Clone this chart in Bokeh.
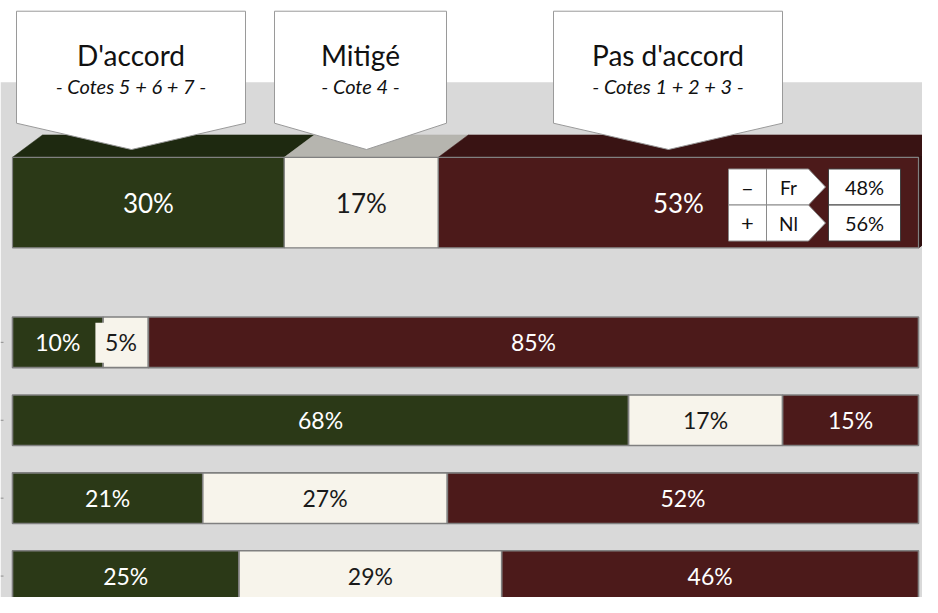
from bokeh.plotting import figure
from bokeh.models import Range1d
from bokeh.core.properties import value
from bokeh.embed import file_html
from bokeh.resources import INLINE

# ---------------- data ----------------
groups = ["D'accord", "Mitigé", "Pas d'accord"]
group_notes = ["- Cotes 5 + 6 + 7 -", "- Cote 4 -", "- Cotes 1 + 2 + 3 -"]
total = [30, 17, 53]

agree = [10, 68, 21, 25]
mixed = [5, 17, 27, 29]
disagree = [85, 15, 52, 46]

region_signs = ["–", "+"]
regions = ["Fr", "Nl"]
region_disagree = [48, 56]

# ---------------- layout helpers ----------------
X0 = 12.0          # reference pixel of 0 %
PPU = 9.06         # pixels per percent
def rx(px):
    return (px - X0) / PPU

FONT = value("Lato")
GREEN, CREAM, RED = "#2b3917", "#f7f4eb", "#4c1a1a"
GREEN_TOP, CREAM_TOP, RED_TOP, RED_SIDE = "#1e2910", "#b6b5af", "#391313", "#2f0f0f"
EDGE = "#808080"

p = figure(width=922, height=597, x_range=Range1d(rx(0), rx(922)),
           y_range=Range1d(613, 0), output_backend="svg",
           toolbar_location=None, min_border=0)
p.axis.visible = False
p.grid.visible = False
p.outline_line_color = None
p.background_fill_color = "white"
p.border_fill_color = "white"

# grey panel
p.quad(left=rx(0), right=rx(940), top=84, bottom=613, fill_color="#d9d9d9", line_color=None)

# ---------------- 3D total bar ----------------
front_colors = [GREEN, CREAM, RED]
top_colors = [GREEN_TOP, CREAM_TOP, RED_TOP]
lab_colors = ["white", "#1a1a1a", "white"]
DX = 30 / PPU
T_TOP, T_BOT, T_BACK = 161, 254, 138

lefts, rights = [], []
acc = 0
for v in total:
    lefts.append(acc)
    acc += v
    rights.append(acc)

p.patches(xs=[[l, r, r + DX, l + DX] for l, r in zip(lefts, rights)],
          ys=[[T_TOP, T_TOP, T_BACK, T_BACK]] * 3,
          fill_color=top_colors, line_color=top_colors, line_width=0.5)
p.patch(x=[rights[-1], rights[-1] + DX, rights[-1] + DX, rights[-1]],
        y=[T_TOP, T_BACK, T_BOT - (T_TOP - T_BACK), T_BOT],
        fill_color=RED_SIDE, line_color=RED_SIDE)
p.quad(left=lefts, right=rights, top=T_TOP, bottom=T_BOT,
       fill_color=front_colors, line_color=EDGE, line_width=1.2)
p.text(x=[(l + r) / 2 for l, r in zip(lefts, rights)], y=[208] * 3,
       text=[f"{v}%" for v in total], text_color=lab_colors,
       text_font=FONT, text_font_size="26px", text_align="center",
       text_baseline="middle")

# ---------------- callouts ----------------
callouts = [  # left, right, tip_x (reference pixels)
    (16, 245, 131),
    (274, 446, 366),
    (553, 782, 668),
]
C_TOP, C_SH, C_TIP = 11, 126, 153
for (l, r, t), name, note in zip(callouts, groups, group_notes):
    p.patch(x=[rx(l), rx(r), rx(r), rx(t), rx(l)],
            y=[C_TOP, C_TOP, C_SH, C_TIP, C_SH],
            fill_color="white", line_color="#9a9a9a", line_width=1)
    cx = rx((l + r) / 2)
    p.text(x=[cx], y=[56], text=[name], text_color="#111111", text_font=FONT,
           text_font_size="28px", text_align="center", text_baseline="middle")
    p.text(x=[cx], y=[88], text=[note], text_color="#111111", text_font=FONT,
           text_font_size="20px", text_font_style="italic", text_align="center",
           text_baseline="middle")

# ---------------- Fr / Nl box ----------------
row_tops = [173, 210]
RH = 37
for i, (sg, rg, rv) in enumerate(zip(region_signs, regions, region_disagree)):
    top = row_tops[i]
    bot = top + RH
    mid = (top + bot) / 2
    p.quad(left=rx(728), right=rx(766), top=top, bottom=bot,
           fill_color="white", line_color="#8a8a8a", line_width=1)
    p.patch(x=[rx(766), rx(808), rx(825), rx(808), rx(766)],
            y=[top, top, mid, bot, bot],
            fill_color="white", line_color="#8a8a8a", line_width=1)
    p.quad(left=rx(828), right=rx(900), top=top, bottom=bot,
           fill_color="white", line_color="#404040", line_width=1)
    p.text(x=[rx(747)], y=[mid], text=[sg], text_color="#111111", text_font=FONT,
           text_font_size="22px", text_align="center", text_baseline="middle")
    p.text(x=[rx(788)], y=[mid], text=[rg], text_color="#111111", text_font=FONT,
           text_font_size="19px", text_align="center", text_baseline="middle")
    p.text(x=[rx(864)], y=[mid], text=[f"{rv}%"], text_color="#111111", text_font=FONT,
           text_font_size="20px", text_align="center", text_baseline="middle")

# ---------------- detail bars ----------------
BAR_TOP0, BAR_STEP, BAR_H = 325, 80, 52
tick_y = []
for i, (a, m, d) in enumerate(zip(agree, mixed, disagree)):
    top = BAR_TOP0 + BAR_STEP * i
    bot = top + BAR_H
    tick_y.append(top + BAR_H / 2)
    vals = [a, m, d]
    ls = [0, a, a + m]
    rs = [a, a + m, a + m + d]
    p.quad(left=ls, right=rs, top=top, bottom=bot, fill_color=front_colors,
           line_color=EDGE, line_width=1.6)
    xs = []
    for l, r, v, c in zip(ls, rs, vals, front_colors):
        cx = (l + r) / 2
        if v < 6:
            cx -= 0.53
            p.quad(left=cx - 2.82, right=cx + 2.82, top=top + 6, bottom=bot - 5,
                   fill_color=c, line_color=None)
        xs.append(cx)
    p.text(x=xs, y=[top + BAR_H / 2] * 3, text=[f"{v}%" for v in vals],
           text_color=lab_colors, text_font=FONT, text_font_size="23px",
           text_align="center", text_baseline="middle")

# tiny category tick marks at the left edge
p.segment(x0=[rx(0)] * len(tick_y), x1=[rx(3)] * len(tick_y), y0=tick_y, y1=tick_y,
          line_color="#8c8c8c", line_width=1)

open("out.html", "w").write(file_html(p, INLINE))
